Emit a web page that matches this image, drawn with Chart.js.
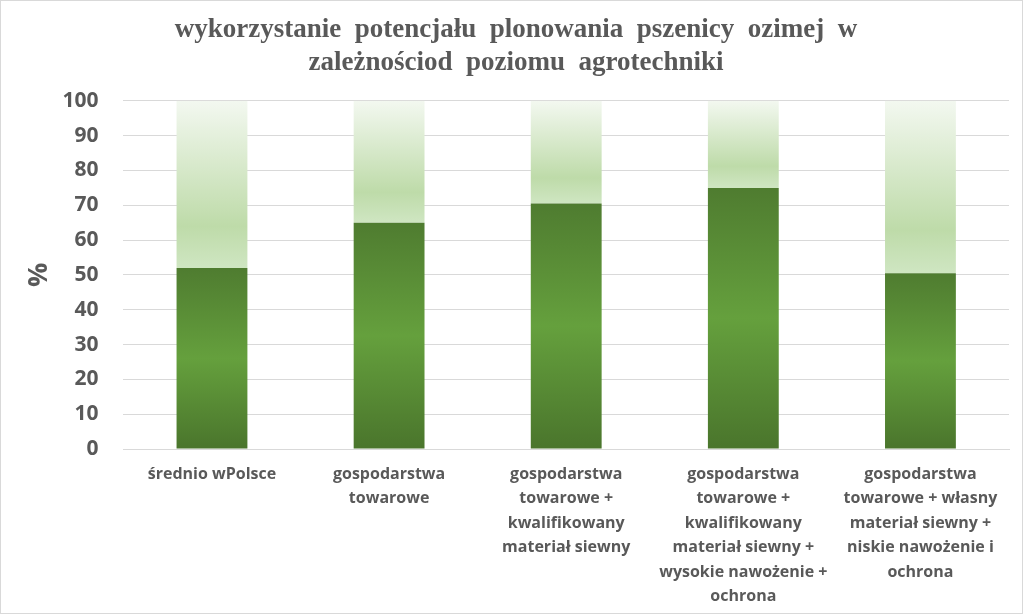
<!DOCTYPE html>
<html>
<head>
<meta charset="utf-8">
<script src="https://cdn.jsdelivr.net/npm/chart.js@4"></script>
<style>
  html, body { margin: 0; padding: 0; background: #fff; }
  #wrap { position: relative; width: 1021px; height: 612px; border: 1px solid #d9d9d9; }
</style>
</head>
<body>
<div id="wrap"><canvas id="c" width="1021" height="612"></canvas></div>
<script>
// ========= Data =========
const categories = [
  ["średnio wPolsce"],
  ["gospodarstwa", "towarowe"],
  ["gospodarstwa", "towarowe +", "kwalifikowany", "materiał siewny"],
  ["gospodarstwa", "towarowe +", "kwalifikowany", "materiał siewny +", "wysokie nawożenie +", "ochrona"],
  ["gospodarstwa", "towarowe + własny", "materiał siewny +", "niskie nawożenie i", "ochrona"]
];
const used = [52, 65, 70.5, 75, 50.5];
const remaining = used.map(v => 100 - v);
const yTicks = [0, 10, 20, 30, 40, 50, 60, 70, 80, 90, 100];

const gray = "#595959";

/* ========= Gradients ========= */
function darkFill(ctx) {
  const chart = ctx.chart;
  if (!chart.chartArea) return "#5a8c36";
  const y = chart.scales.y;
  const top = y.getPixelForValue(used[ctx.dataIndex]);
  const bottom = y.getPixelForValue(0);
  const g = chart.ctx.createLinearGradient(0, top, 0, bottom);
  g.addColorStop(0, "#4f7c30");
  g.addColorStop(0.5, "#65a03d");
  g.addColorStop(1, "#4a752c");
  return g;
}
function lightFill(ctx) {
  const chart = ctx.chart;
  if (!chart.chartArea) return "#c5e0b4";
  const y = chart.scales.y;
  const top = y.getPixelForValue(100);
  const bottom = y.getPixelForValue(used[ctx.dataIndex]);
  const g = chart.ctx.createLinearGradient(0, top, 0, bottom);
  g.addColorStop(0, "#f3f8f0");
  g.addColorStop(0.75, "#bedba9");
  g.addColorStop(1, "#cfe6c2");
  return g;
}

/* ========= Chart ========= */
new Chart(document.getElementById("c"), {
  type: "bar",
  data: {
    labels: categories,
    datasets: [
      { label: "wykorzystanie", data: used, backgroundColor: darkFill, borderWidth: 0 },
      { label: "niewykorzystane", data: remaining, backgroundColor: lightFill, borderWidth: 0 }
    ]
  },
  options: {
    responsive: false,
    animation: false,
    devicePixelRatio: 1,
    layout: { padding: { left: 22, right: 13, top: 8, bottom: -1 } },
    datasets: { bar: { categoryPercentage: 1, barPercentage: 0.4 } },
    plugins: {
      legend: { display: false },
      tooltip: { enabled: false },
      title: {
        display: true,
        text: ["wykorzystanie  potencjału  plonowania  pszenicy  ozimej  w", "zależnościod  poziomu  agrotechniki"],
        color: gray,
        font: { family: "'Liberation Serif', 'Times New Roman', serif", size: 27, weight: "bold" },
        lineHeight: 1.2,
        padding: { top: 5, bottom: 22 }
      }
    },
    scales: {
      x: {
        stacked: true,
        grid: { display: false },
        border: { color: "#d9d9d9" },
        ticks: {
          color: gray,
          maxRotation: 0,
          autoSkip: false,
          padding: 5,
          font: { family: "'Open Sans', Calibri, sans-serif", size: 16, weight: "bold", lineHeight: 1.53 }
        }
      },
      y: {
        stacked: true,
        min: 0,
        max: 100,
        afterBuildTicks: (axis) => { axis.ticks = yTicks.map(v => ({ value: v })); },
        grid: { color: "#d9d9d9", drawTicks: false },
        border: { display: false },
        ticks: {
          color: gray,
          padding: 25,
          font: { family: "'Open Sans', Calibri, sans-serif", size: 21, weight: "bold" }
        },
        title: {
          display: true,
          text: "%",
          color: gray,
          padding: { top: 0, bottom: -18 },
          font: { family: "'Open Sans', Calibri, sans-serif", size: 27, weight: "bold" }
        }
      }
    }
  }
});
</script>
</body>
</html>
